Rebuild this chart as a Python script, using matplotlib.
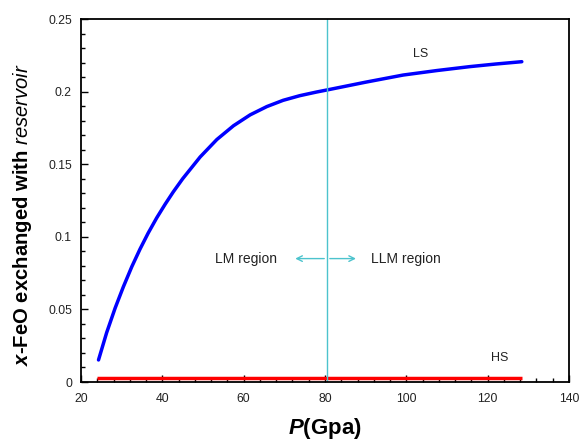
import matplotlib
matplotlib.use("Agg")
import matplotlib.pyplot as plt
from matplotlib.ticker import MultipleLocator, FuncFormatter
import numpy as np

# Data
ls_p = [24.3, 26.3, 28.4, 30.4, 32.5, 34.5, 36.5, 38.6, 40.7, 42.7, 45.0, 49.3,
        53.4, 57.5, 61.6, 65.7, 69.7, 73.8, 77.9, 80.8, 90.0, 99.2, 107.5, 115.6,
        122.0, 128.4]
ls_x = [0.0152, 0.034, 0.051, 0.0655, 0.0795, 0.0915, 0.1025, 0.1130, 0.1225, 0.1310,
        0.1400, 0.1550, 0.1670, 0.1765, 0.1840, 0.1897, 0.1940, 0.1972, 0.1997, 0.2013,
        0.2065, 0.2114, 0.2145, 0.2172, 0.2190, 0.2206]
hs_p = [24.0, 128.4]
hs_x = [0.003, 0.003]
boundary_p = 80.5

plt.rcParams['mathtext.fontset'] = 'custom'
plt.rcParams['mathtext.rm'] = 'Liberation Sans'
plt.rcParams['mathtext.it'] = 'Liberation Sans:italic'
plt.rcParams['mathtext.bf'] = 'Liberation Sans:bold'
plt.rcParams['mathtext.bfit'] = 'Liberation Sans:bold:italic'
plt.rcParams['font.family'] = ['Liberation Sans', 'DejaVu Sans']

fig = plt.figure(figsize=(5.8, 4.44), dpi=100)
ax = fig.add_axes([0.1397, 0.1396, 0.8413, 0.8176])

cyan = '#4cc3cd'
ax.plot(ls_p, ls_x, color='#0000ff', lw=2.5, solid_capstyle='round',
        solid_joinstyle='round')
ax.plot(hs_p, hs_x, color='#ff0000', lw=2.5, solid_capstyle='butt')
ax.axvline(boundary_p, color=cyan, lw=1.0)

ax.annotate('', xy=(72.0, 0.085), xytext=(boundary_p, 0.085),
            arrowprops=dict(arrowstyle='->', color=cyan, lw=1.0, mutation_scale=10))
ax.annotate('', xy=(88.3, 0.085), xytext=(boundary_p, 0.085),
            arrowprops=dict(arrowstyle='->', color=cyan, lw=1.0, mutation_scale=10))

ax.text(60.5, 0.085, 'LM region', ha='center', va='center', fontsize=10, color='#222222')
ax.text(99.8, 0.085, 'LLM region', ha='center', va='center', fontsize=10, color='#222222')
ax.text(103.6, 0.226, 'LS', ha='center', va='center', fontsize=9, color='#222222')
ax.text(123.0, 0.0165, 'HS', ha='center', va='center', fontsize=9, color='#222222')

ax.set_xlim(20, 140)
ax.set_ylim(0, 0.25)
ax.xaxis.set_major_locator(MultipleLocator(20))
ax.xaxis.set_minor_locator(MultipleLocator(4))
ax.yaxis.set_major_locator(MultipleLocator(0.05))
ax.yaxis.set_minor_locator(MultipleLocator(0.01))
ax.yaxis.set_major_formatter(FuncFormatter(lambda v, p: '%g' % round(v, 4)))
ax.tick_params(which='both', direction='in', color='black', labelsize=8.8,
               labelcolor='#222222')
ax.tick_params(which='major', length=5, width=1)
ax.tick_params(which='minor', length=3, width=1)
ax.tick_params(axis='x', pad=8)
ax.tick_params(axis='y', pad=6.5)
for s in ax.spines.values():
    s.set_linewidth(1.3)
    s.set_color('black')

ax.set_xlabel(r'$\mathbfit{P}\mathbf{(Gpa)}$', fontsize=16, labelpad=8)
ylab = r'$\mathbfit{x}\mathbf{' + '\u2010' + r'FeO\ exchanged\ with\ }\mathit{reservoir}$'
ax.set_ylabel(ylab, fontsize=14.6)
ax.yaxis.set_label_coords(-0.096, 0.46)

fig.savefig('out.png', dpi=100)
